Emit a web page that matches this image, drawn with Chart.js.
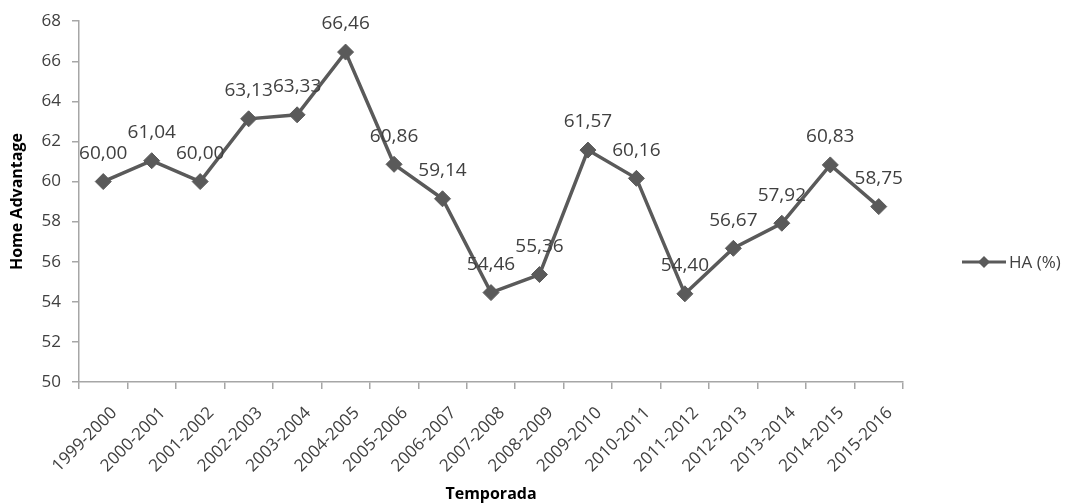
<!DOCTYPE html>
<html><head><meta charset="utf-8">
<script src="https://cdn.jsdelivr.net/npm/chart.js@4"></script>
<style>html,body{margin:0;padding:0;background:#fff}#w{width:1071px;height:504px}</style>
</head><body><div id="w"><canvas id="c"></canvas></div>
<script>
const categories = ["1999-2000","2000-2001","2001-2002","2002-2003","2003-2004","2004-2005","2005-2006","2006-2007","2007-2008","2008-2009","2009-2010","2010-2011","2011-2012","2012-2013","2013-2014","2014-2015","2015-2016"];
const haValues = [60.00,61.04,60.00,63.13,63.33,66.46,60.86,59.14,54.46,55.36,61.57,60.16,54.40,56.67,57.92,60.83,58.75];
const seriesName = "HA (%)";
const yTitle = "Home Advantage";
const xTitle = "Temporada";

const FONT = "'Open Sans', 'DejaVu Sans', sans-serif";
const LINE = "#5a5a5a";
const TXT = "#404040";

const labelsPlugin = {
  id: 'valLabels',
  afterDatasetsDraw(chart) {
    const ctx = chart.ctx;
    const meta = chart.getDatasetMeta(0);
    ctx.save();
    ctx.font = "19px " + FONT;
    ctx.fillStyle = TXT;
    ctx.textAlign = 'center';
    ctx.textBaseline = 'middle';
    meta.data.forEach((pt, i) => {
      ctx.fillText(haValues[i].toFixed(2).replace('.', ','), pt.x, pt.y - 28);
    });
    ctx.restore();
  }
};
const legendPlugin = {
  id: 'sideLegend',
  afterDraw(chart) {
    const ctx = chart.ctx;
    const y = 262, x0 = 962, x1 = 1006;
    ctx.save();
    ctx.strokeStyle = LINE; ctx.lineWidth = 3;
    ctx.beginPath(); ctx.moveTo(x0, y); ctx.lineTo(x1, y); ctx.stroke();
    ctx.fillStyle = LINE;
    const cx = (x0 + x1) / 2, r = 6;
    ctx.beginPath(); ctx.moveTo(cx, y - r); ctx.lineTo(cx + r, y); ctx.lineTo(cx, y + r); ctx.lineTo(cx - r, y); ctx.closePath(); ctx.fill();
    ctx.font = "17px " + FONT; ctx.fillStyle = TXT; ctx.textBaseline = 'middle'; ctx.textAlign = 'left';
    ctx.fillText(seriesName, x1 + 3, y + 1);
    ctx.restore();
  }
};

new Chart(document.getElementById('c'), {
  type: 'line',
  data: { labels: categories, datasets: [{
    label: seriesName, data: haValues,
    borderColor: LINE, backgroundColor: LINE, borderWidth: 3.5,
    pointStyle: 'rectRot', pointRadius: 8, pointHoverRadius: 8, pointBorderWidth: 1,
    pointBackgroundColor: LINE, pointBorderColor: LINE, tension: 0
  }]},
  options: {
    responsive: true, maintainAspectRatio: false, animation: false,
    devicePixelRatio: 1,
    layout: { padding: { top: 16, right: 168, bottom: 0, left: 8 } },
    plugins: { legend: { display: false }, tooltip: { enabled: false } },
    scales: {
      x: {
        offset: true,
        afterFit(s) { s.height = 122; },
        grid: { offset: true, drawOnChartArea: false, color: '#a6a6a6', tickLength: 7, lineWidth: 1.5 },
        border: { color: '#a6a6a6', width: 1.5 },
        ticks: { color: TXT, font: { family: FONT, size: 17 }, maxRotation: 45, minRotation: 45, padding: 14, labelOffset: 11, autoSkip: false },
        title: { display: true, text: xTitle, color: '#000', font: { family: FONT, size: 16, weight: 'bold' }, padding: { top: 0, bottom: 0 } }
      },
      y: {
        min: 50, max: 68,
        afterFit(s) { s.width = 71; },
        grid: { drawOnChartArea: false, color: '#a6a6a6', tickLength: 7, lineWidth: 1.5 },
        border: { color: '#a6a6a6', width: 1.5 },
        ticks: { stepSize: 2, color: TXT, font: { family: FONT, size: 17 }, padding: 11 },
        title: { display: true, text: yTitle, color: '#000', font: { family: FONT, size: 16, weight: 'bold' }, padding: { top: 0, bottom: 0 } }
      }
    }
  },
  plugins: [labelsPlugin, legendPlugin]
});
</script></body></html>
